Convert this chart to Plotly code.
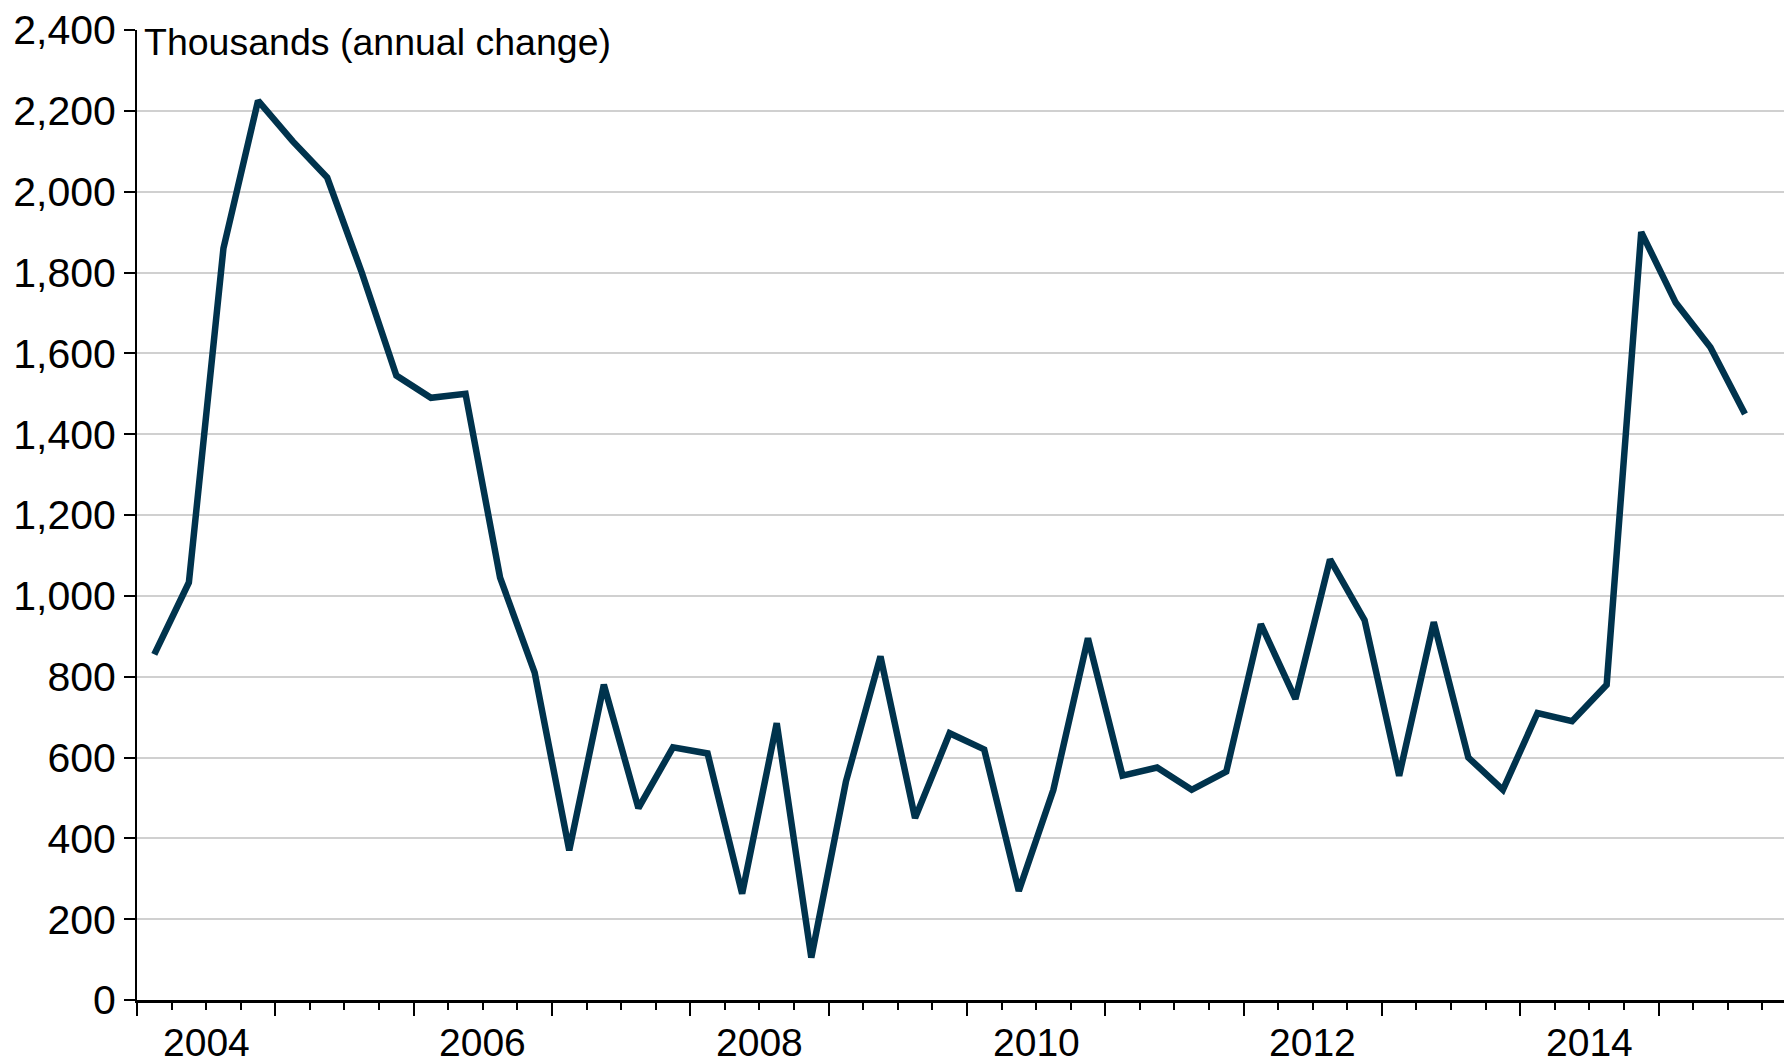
import plotly.graph_objects as go

# Quarterly periods, 2004 Q1 to 2015 Q3
years = list(range(2004, 2016))
quarters = [f"{y} Q{q}" for y in years for q in range(1, 5)][:47]
values = [855, 1033, 1860, 2225, 2125, 2035, 1800, 1545, 1490, 1500,
          1045, 810, 370, 780, 475, 625, 610, 263, 685, 105,
          540, 850, 450, 660, 620, 270, 520, 895, 555, 575,
          520, 565, 930, 745, 1090, 940, 555, 935, 600, 520,
          710, 690, 780, 1900, 1725, 1615, 1450]
label_years = [2004, 2006, 2008, 2010, 2012, 2014]
y_ticks = list(range(0, 2401, 200))

FONT = "Liberation Sans, Arial, sans-serif"
LINE_COLOR = "#00334D"

xpos = [i + 0.5 for i in range(len(quarters))]

fig = go.Figure()
fig.add_trace(go.Scatter(
    x=xpos, y=values, mode="lines",
    line=dict(color=LINE_COLOR, width=6.5),
    text=quarters, hoverinfo="text+y", showlegend=False,
))

year_bounds = [4 * i for i in range(len(years))]

# page body has an 8px margin, so the figure is sized/margined to compensate
fig.update_layout(
    width=1784, height=1050,
    margin=dict(l=129, r=0, t=22, b=58),
    paper_bgcolor="white", plot_bgcolor="white",
    font=dict(family=FONT, size=39, color="black"),
    xaxis=dict(
        range=[0, 47.86],
        tickvals=year_bounds, ticktext=["" for _ in year_bounds],
        ticks="outside", ticklen=13, tickwidth=2, tickcolor="black",
        showline=True, linecolor="black", linewidth=2.5,
        showgrid=False, zeroline=False,
        minor=dict(dtick=1, tick0=0, ticks="outside", ticklen=7,
                   tickwidth=2, tickcolor="black", showgrid=False),
    ),
    yaxis=dict(
        range=[0, 2400],
        tickvals=y_ticks, tickformat=",",
        ticks="outside", ticklen=11, tickwidth=2, tickcolor="black",
        showline=True, linecolor="black", linewidth=2,
        showgrid=True, gridcolor="#D0D0D0", gridwidth=1.5,
        zeroline=False, ticklabeloverflow="allow",
        tickfont=dict(size=41),
    ),
)

for yr in label_years:
    idx = years.index(yr)
    fig.add_annotation(
        x=4 * idx + 2, y=0, xref="x", yref="paper",
        text=str(yr), showarrow=False,
        xanchor="center", yanchor="middle", yshift=-42,
        font=dict(size=39, family=FONT, color="black"),
    )

fig.add_annotation(
    x=0, y=1, xref="paper", yref="paper",
    text="Thousands (annual change)", showarrow=False,
    xanchor="left", yanchor="middle", xshift=5, yshift=-12,
    font=dict(size=37.5, family=FONT, color="black"),
)

fig.write_html("out.html")
